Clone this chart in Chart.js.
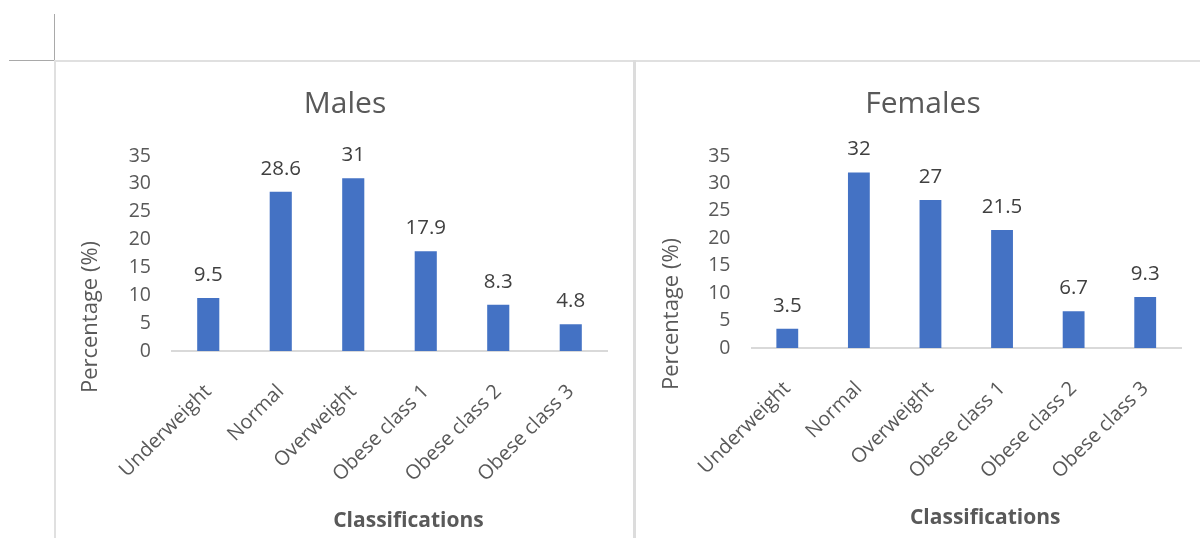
<!DOCTYPE html>
<html>
<head>
<meta charset="utf-8">
<script src="https://cdn.jsdelivr.net/npm/chart.js@4"></script>
<style>
  body { margin: 0; background: #fff; width: 1200px; height: 538px; overflow: hidden; position: relative; }
  .rule { position: absolute; }
  .box { position: absolute; top: 62px; height: 476px; }
</style>
</head>
<body>
<!-- page frame lines -->
<div class="rule" style="left:54px;top:14px;width:1px;height:46px;background:#a9a9a9"></div>
<div class="rule" style="left:9px;top:60px;width:45px;height:1px;background:#a9a9a9"></div>
<div class="rule" style="left:54px;top:60px;width:1146px;height:2px;background:#e0e0e0"></div>
<div class="rule" style="left:54px;top:60px;width:2px;height:478px;background:#e0e0e0"></div>
<div class="rule" style="left:633px;top:60px;width:3px;height:478px;background:#dcdcdc"></div>

<div class="box" style="left:56px;width:577px"><canvas id="maleChart"></canvas></div>
<div class="box" style="left:637px;width:563px"><canvas id="femaleChart"></canvas></div>

<script>
const categories = ["Underweight", "Normal", "Overweight", "Obese class 1", "Obese class 2", "Obese class 3"];
const malePct = [9.5, 28.6, 31, 17.9, 8.3, 4.8];
const femalePct = [3.5, 32, 27, 21.5, 6.7, 9.3];
const yMin = 0, yMax = 35, yStep = 5;

const FONT = "'Open Sans', sans-serif";
const GREY = "#595959";

// value printed above each bar
const valueLabels = {
  id: "valueLabels",
  afterDatasetsDraw(chart) {
    const ctx = chart.ctx;
    const ds = chart.data.datasets[0];
    ctx.save();
    ctx.font = "20.5px " + FONT;
    ctx.fillStyle = "#404040";
    ctx.textAlign = "center";
    ctx.textBaseline = "middle";
    chart.getDatasetMeta(0).data.forEach((bar, i) => {
      ctx.fillText(String(ds.data[i]), bar.x, bar.y - 23);
    });
    ctx.restore();
  }
};

// axis titles placed by hand: y title sits low, x title a bit right of centre
const axisTitles = {
  id: "axisTitles",
  afterDraw(chart, args, opts) {
    const ctx = chart.ctx;
    const area = chart.chartArea;
    ctx.save();
    ctx.fillStyle = GREY;
    ctx.textAlign = "center";
    ctx.textBaseline = "middle";

    ctx.font = "bold 21px " + FONT;
    ctx.fillText(opts.xText, (area.left + area.right) / 2 + opts.xShift, chart.height - opts.xFromBottom);

    ctx.translate(opts.yX, area.bottom + opts.yDy);
    ctx.rotate(-Math.PI / 2);
    ctx.font = "22px " + FONT;
    ctx.fillText(opts.yText, 0, 0);
    ctx.restore();
  }
};

function makeChart(id, title, values, lay) {
  return new Chart(document.getElementById(id), {
    type: "bar",
    data: {
      labels: categories,
      datasets: [{
        data: values,
        backgroundColor: "#4472c4",
        barPercentage: 0.305,
        categoryPercentage: 1
      }]
    },
    options: {
      responsive: true,
      maintainAspectRatio: false,
      animation: false,
      layout: { padding: { left: lay.padLeft, right: lay.padRight, top: 0, bottom: 0 } },
      plugins: {
        legend: { display: false },
        tooltip: { enabled: false },
        title: {
          display: true,
          text: title,
          color: GREY,
          font: { family: FONT, size: 30, weight: "normal", lineHeight: 1.2 },
          padding: { top: 24, bottom: lay.top - 24 - 36 }
        },
        axisTitles: {
          xText: "Classifications", xShift: 19, xFromBottom: lay.xTitleFromBottom,
          yText: "Percentage (%)", yX: 35, yDy: -34
        }
      },
      scales: {
        x: {
          grid: { display: false },
          border: { display: true, color: "#d9d9d9", width: 2 },
          ticks: {
            color: GREY,
            font: { family: FONT, size: 20 },
            minRotation: 45,
            maxRotation: 45,
            autoSkip: false,
            padding: 21
          },
          afterFit(scale) { scale.height = lay.xHeight; }
        },
        y: {
          min: yMin,
          max: yMax,
          grid: { display: false, drawTicks: false },
          border: { display: false },
          ticks: {
            stepSize: yStep,
            color: GREY,
            font: { family: FONT, size: 19.5 },
            padding: 21
          },
          afterFit(scale) { scale.width = lay.yWidth; }
        }
      }
    },
    plugins: [valueLabels, axisTitles]
  });
}

makeChart("maleChart", "Males", malePct, { padLeft: 27, padRight: 26, yWidth: 89, xHeight: 187, top: 94, xTitleFromBottom: 17 });
makeChart("femaleChart", "Females", femalePct, { padLeft: 28, padRight: 19, yWidth: 86.5, xHeight: 190, top: 94, xTitleFromBottom: 20 });
</script>
</body>
</html>
